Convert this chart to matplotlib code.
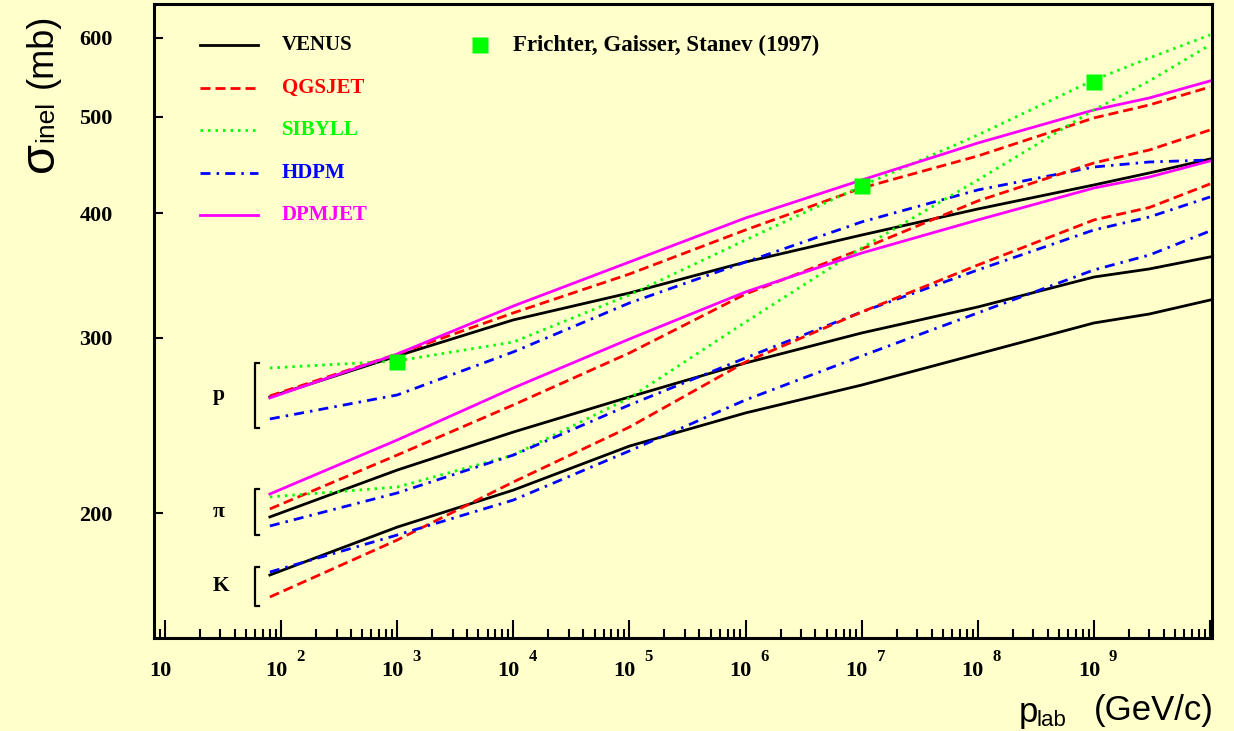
import numpy as np
import matplotlib
matplotlib.use("Agg")
import matplotlib.pyplot as plt
import matplotlib.ticker as ticker
import matplotlib.transforms as mtransforms

plt.rcParams['font.family'] = ['Liberation Serif', 'DejaVu Serif']
plt.rcParams['font.weight'] = 'bold'

# lab momentum grid (GeV/c)
p_lab = [80, 1e3, 1e4, 1e5, 1e6, 1e7, 1e8, 1e9, 3e9, 1e10]

# inelastic cross sections (mb), proton-air
p_venus  = [261.6, 287.6, 312.6, 332.7, 357.4, 380.4, 404.0, 427.1, 439.1, 453.5]
p_qgsjet = [262.2, 288.9, 317.7, 347.6, 384.9, 424.1, 456.7, 498.7, 513.9, 535.7]
p_sibyll = [279.7, 284.3, 297.0, 331.2, 376.1, 426.1, 479.4, 544.5, 572.9, 604.2]
p_hdpm   = [248.6, 262.8, 290.3, 325.1, 357.4, 392.1, 422.2, 445.2, 450.4, 452.5]
p_dpmjet = [261.0, 288.9, 322.8, 357.4, 395.7, 432.0, 470.6, 508.0, 522.3, 543.2]

# pion-air
pi_venus  = [198.2, 220.9, 241.2, 261.6, 283.0, 303.3, 322.1, 345.2, 351.7, 361.6]
pi_qgsjet = [201.9, 228.7, 256.8, 289.6, 331.9, 368.3, 411.6, 449.4, 463.1, 485.0]
pi_sibyll = [207.6, 212.4, 228.7, 261.0, 311.1, 369.2, 432.0, 508.0, 543.2, 590.4]
pi_hdpm   = [194.1, 209.5, 228.7, 256.8, 286.3, 318.4, 350.9, 384.9, 396.6, 415.4]
pi_dpmjet = [209.0, 236.8, 267.1, 299.1, 333.5, 364.9, 393.9, 424.1, 435.0, 451.5]

# kaon-air
k_venus  = [173.3, 193.6, 210.9, 233.5, 252.1, 268.9, 288.9, 310.4, 316.9, 327.3]
k_qgsjet = [164.7, 187.9, 214.9, 244.0, 283.6, 318.4, 354.9, 393.9, 405.4, 428.1]
k_hdpm   = [174.5, 190.1, 206.1, 230.9, 259.8, 287.6, 317.7, 350.9, 363.2, 384.0]

# Frichter, Gaisser, Stanev (1997)
fgs_p = [1e3, 1e7, 1e9]
fgs_sigma = [283.6, 426.1, 541.9]

models = ['VENUS', 'QGSJET', 'SIBYLL', 'HDPM', 'DPMJET']
colors = {'VENUS': 'black', 'QGSJET': '#ff0000', 'SIBYLL': '#00ff00',
          'HDPM': '#0000ff', 'DPMJET': '#ff00ff'}
styles = {'VENUS': '-', 'QGSJET': (0, (3.6, 1.8)), 'SIBYLL': (0, (0.9, 1.8)),
          'HDPM': (0, (3.6, 2.2, 0.9, 2.2)), 'DPMJET': '-'}

curves = {
    'p': {'VENUS': p_venus, 'QGSJET': p_qgsjet, 'SIBYLL': p_sibyll,
          'HDPM': p_hdpm, 'DPMJET': p_dpmjet},
    '\u03c0': {'VENUS': pi_venus, 'QGSJET': pi_qgsjet, 'SIBYLL': pi_sibyll,
               'HDPM': pi_hdpm, 'DPMJET': pi_dpmjet},
    'K': {'VENUS': k_venus, 'QGSJET': k_qgsjet, 'HDPM': k_hdpm},
}

BG = '#ffffcc'
LW = 2.0

fig = plt.figure(figsize=(12.34, 7.31), dpi=100, facecolor=BG)
ax = fig.add_axes([0.1252, 0.1272, 0.8570, 0.8673])
ax.set_facecolor(BG)
ax.set_xscale('log')
ax.set_yscale('log')
ax.set_xlim(8.12, 1.04e10)
ax.set_ylim(149.8, 649)

for group, runs in curves.items():
    for name, sigma in runs.items():
        ax.plot(p_lab, sigma, color=colors[name], linestyle=styles[name], lw=LW)

ax.plot(fgs_p, fgs_sigma, 's', color='#00ff00', ms=12, mec='none', zorder=5)

# axes styling
for sp in ax.spines.values():
    sp.set_linewidth(2.2)
ax.yaxis.set_major_locator(ticker.FixedLocator([200, 300, 400, 500, 600]))
ax.yaxis.set_minor_locator(ticker.NullLocator())
ax.yaxis.set_major_formatter(ticker.FuncFormatter(lambda y, p: f'{int(y)}'))
ax.xaxis.set_major_locator(ticker.LogLocator(base=10, numticks=20))
ax.xaxis.set_minor_locator(ticker.LogLocator(base=10, subs=range(2, 10), numticks=20))
ax.xaxis.set_major_formatter(ticker.NullFormatter())
ax.xaxis.set_minor_formatter(ticker.NullFormatter())
ax.tick_params(axis='x', which='major', direction='in', length=13, width=1.5)
ax.tick_params(axis='x', which='minor', direction='in', length=6.5, width=1.5)
ax.tick_params(axis='y', which='major', direction='in', length=6.5, width=1.5,
               pad=30, labelsize=16)
for lab in ax.get_yticklabels():
    lab.set_fontweight('bold')

# x tick labels drawn as "10" with a raised exponent
for k in range(1, 10):
    ax.annotate('10', xy=(10.0 ** k, 0), xycoords=('data', 'axes fraction'),
                xytext=(-3.6, -24), textcoords='offset points',
                ha='center', va='center', fontsize=16, fontweight='bold')
    if k > 1:
        ax.annotate(str(k), xy=(10.0 ** k, 0), xycoords=('data', 'axes fraction'),
                    xytext=(13.7, -14), textcoords='offset points',
                    ha='center', va='center', fontsize=12, fontweight='bold')

# legend
for i, name in enumerate(models):
    yf = 0.935 - i * 0.067
    ax.plot([0.043, 0.098], [yf, yf], transform=ax.transAxes,
            color=colors[name], linestyle=styles[name], lw=LW)
    ax.text(0.1206, yf, name, transform=ax.transAxes, color=colors[name],
            fontsize=15, fontweight='bold', va='center', ha='left')
ax.plot([0.308], [0.935], 's', transform=ax.transAxes, color='#00ff00',
        ms=12, mec='none')
ax.text(0.339, 0.935, 'Frichter, Gaisser, Stanev (1997)', transform=ax.transAxes,
        fontsize=16.5, fontweight='bold', va='center', ha='left')

# group labels with brackets around starting values
trans = mtransforms.blended_transform_factory(ax.transAxes, ax.transData)
for group, runs in curves.items():
    starts = [s[0] for s in runs.values()]
    lo, hi = min(starts) * 0.98, max(starts) * 1.012
    mid = np.sqrt(lo * hi)
    ax.text(0.0553, mid, group, transform=trans, ha='left', va='center',
            fontsize=15.5, fontweight='bold')
    ax.plot([0.0988, 0.0950, 0.0950, 0.0988], [hi, hi, lo, lo],
            transform=trans, color='black', lw=1.6)

# axis titles
sans = 'Liberation Sans'
fig.text(53 / 1234, 1 - 172 / 731, '\u03c3', rotation=90, rotation_mode='anchor',
         ha='left', va='baseline', fontsize=35, family=sans, fontweight='normal')
fig.text(53 / 1234, 1 - 142 / 731, 'inel', rotation=90, rotation_mode='anchor',
         ha='left', va='baseline', fontsize=19, family=sans, fontweight='normal')
fig.text(52 / 1234, 1 - 88 / 731, '(mb)', rotation=90, rotation_mode='anchor',
         ha='left', va='baseline', fontsize=26, family=sans, fontweight='normal')

fig.text(1019 / 1234, 1 - 722 / 731, 'p', ha='left', va='baseline',
         fontsize=25, family=sans, fontweight='normal')
fig.text(1037 / 1234, 1 - 726 / 731, 'lab', ha='left', va='baseline',
         fontsize=16, family=sans, fontweight='normal')
fig.text(1094 / 1234, 1 - 720 / 731, '(GeV/c)', ha='left', va='baseline',
         fontsize=25, family=sans, fontweight='normal')

fig.savefig('out.png', dpi=100, facecolor=BG)
